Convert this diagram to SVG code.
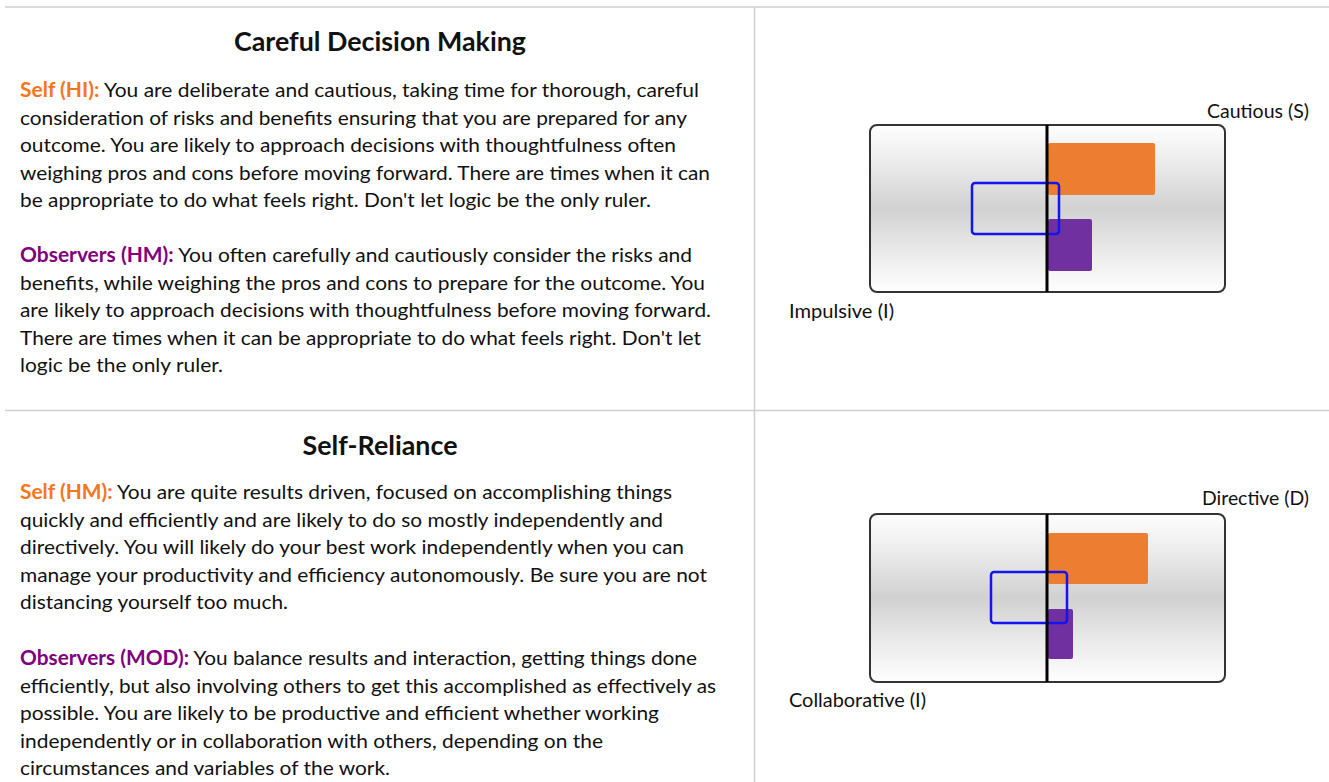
<svg xmlns="http://www.w3.org/2000/svg" width="1329" height="782" viewBox="0 0 1329 782">
<defs>
<linearGradient id="chartBg" x1="0" y1="0" x2="0" y2="1">
<stop offset="0" stop-color="#fefefe"/>
<stop offset="0.22" stop-color="#ececec"/>
<stop offset="0.5" stop-color="#d1d1d1"/>
<stop offset="0.78" stop-color="#ececec"/>
<stop offset="1" stop-color="#fefefe"/>
</linearGradient>
<style>
.div{stroke:#cfcfcf;stroke-width:1.5;fill:none}
.title{font-family:Lato,"Liberation Sans",sans-serif;font-weight:bold;font-size:26px;fill:#111;text-anchor:middle}
.body{font-family:Lato,"Liberation Sans",sans-serif;font-size:20px;fill:#111}
.self{fill:#F8751C;font-weight:bold}
.obs{fill:#800080;font-weight:bold}
.axis{font-family:Lato,"Liberation Sans",sans-serif;font-size:19px;fill:#111}
.frame{fill:url(#chartBg);stroke:#333;stroke-width:2}
.mid{stroke:#000;stroke-width:3}
.orange{fill:#ED7D31}
.purple{fill:#7030A0}
.blue{fill:none;stroke:#1414EE;stroke-width:2.5}
</style>
</defs>
<rect width="1329" height="782" fill="#fff"/>
<g id="dividers">
<line class="div" x1="5" y1="7" x2="1329" y2="7"/>
<line class="div" x1="5" y1="410.5" x2="1329" y2="410.5"/>
<line class="div" x1="754.5" y1="7" x2="754.5" y2="782"/>
</g>
<g id="section-careful">
<text class="title" x="380" y="51" textLength="292" lengthAdjust="spacingAndGlyphs">Careful Decision Making</text>
<text class="body" x="20" y="97" textLength="679" lengthAdjust="spacingAndGlyphs"><tspan class="self">Self (HI):</tspan> You are deliberate and cautious, taking time for thorough, careful</text>
<text class="body" x="20" y="124.5" textLength="667" lengthAdjust="spacingAndGlyphs">consideration of risks and benefits ensuring that you are prepared for any</text>
<text class="body" x="20" y="152" textLength="656" lengthAdjust="spacingAndGlyphs">outcome. You are likely to approach decisions with thoughtfulness often</text>
<text class="body" x="20" y="179.5" textLength="690" lengthAdjust="spacingAndGlyphs">weighing pros and cons before moving forward. There are times when it can</text>
<text class="body" x="20" y="207" textLength="631" lengthAdjust="spacingAndGlyphs">be appropriate to do what feels right. Don't let logic be the only ruler.</text>
<text class="body" x="20" y="262" textLength="672" lengthAdjust="spacingAndGlyphs"><tspan class="obs">Observers (HM):</tspan> You often carefully and cautiously consider the risks and</text>
<text class="body" x="20" y="289.5" textLength="685" lengthAdjust="spacingAndGlyphs">benefits, while weighing the pros and cons to prepare for the outcome. You</text>
<text class="body" x="20" y="317" textLength="691" lengthAdjust="spacingAndGlyphs">are likely to approach decisions with thoughtfulness before moving forward.</text>
<text class="body" x="20" y="344.5" textLength="681" lengthAdjust="spacingAndGlyphs">There are times when it can be appropriate to do what feels right. Don't let</text>
<text class="body" x="20" y="372" textLength="203" lengthAdjust="spacingAndGlyphs">logic be the only ruler.</text>
</g>
<g id="chart-cautious">
<rect class="frame" x="870" y="125" width="355" height="167" rx="7"/>
<rect class="orange" x="1048" y="143" width="107" height="52" rx="2"/>
<rect class="purple" x="1048" y="219" width="44" height="52" rx="2"/>
<rect class="blue" x="972" y="183" width="87" height="51" rx="3"/>
<line class="mid" x1="1047" y1="125" x2="1047" y2="292"/>
<text class="axis" x="1309" y="118" text-anchor="end" textLength="102" lengthAdjust="spacingAndGlyphs">Cautious (S)</text>
<text class="axis" x="789" y="318" textLength="105" lengthAdjust="spacingAndGlyphs">Impulsive (I)</text>
</g>
<g id="section-self-reliance">
<text class="title" x="380" y="455" textLength="155" lengthAdjust="spacingAndGlyphs">Self-Reliance</text>
<text class="body" x="20" y="499" textLength="652" lengthAdjust="spacingAndGlyphs"><tspan class="self">Self (HM):</tspan> You are quite results driven, focused on accomplishing things</text>
<text class="body" x="20" y="526.5" textLength="643" lengthAdjust="spacingAndGlyphs">quickly and efficiently and are likely to do so mostly independently and</text>
<text class="body" x="20" y="554" textLength="664" lengthAdjust="spacingAndGlyphs">directively. You will likely do your best work independently when you can</text>
<text class="body" x="20" y="581.5" textLength="687" lengthAdjust="spacingAndGlyphs">manage your productivity and efficiency autonomously. Be sure you are not</text>
<text class="body" x="20" y="609" textLength="268" lengthAdjust="spacingAndGlyphs">distancing yourself too much.</text>
<text class="body" x="20" y="665" textLength="677" lengthAdjust="spacingAndGlyphs"><tspan class="obs">Observers (MOD):</tspan> You balance results and interaction, getting things done</text>
<text class="body" x="20" y="692.5" textLength="696" lengthAdjust="spacingAndGlyphs">efficiently, but also involving others to get this accomplished as effectively as</text>
<text class="body" x="20" y="720" textLength="639" lengthAdjust="spacingAndGlyphs">possible. You are likely to be productive and efficient whether working</text>
<text class="body" x="20" y="747.5" textLength="583" lengthAdjust="spacingAndGlyphs">independently or in collaboration with others, depending on the</text>
<text class="body" x="20" y="775" textLength="370" lengthAdjust="spacingAndGlyphs">circumstances and variables of the work.</text>
</g>
<g id="chart-directive">
<rect class="frame" x="870" y="514" width="355" height="168" rx="7"/>
<rect class="orange" x="1048" y="533" width="100" height="51" rx="2"/>
<rect class="purple" x="1048" y="609" width="25" height="50" rx="2"/>
<rect class="blue" x="991" y="572" width="76" height="51" rx="3"/>
<line class="mid" x1="1047" y1="514" x2="1047" y2="682"/>
<text class="axis" x="1309" y="505" text-anchor="end" textLength="107" lengthAdjust="spacingAndGlyphs">Directive (D)</text>
<text class="axis" x="789" y="707" textLength="137" lengthAdjust="spacingAndGlyphs">Collaborative (I)</text>
</g>
</svg>
